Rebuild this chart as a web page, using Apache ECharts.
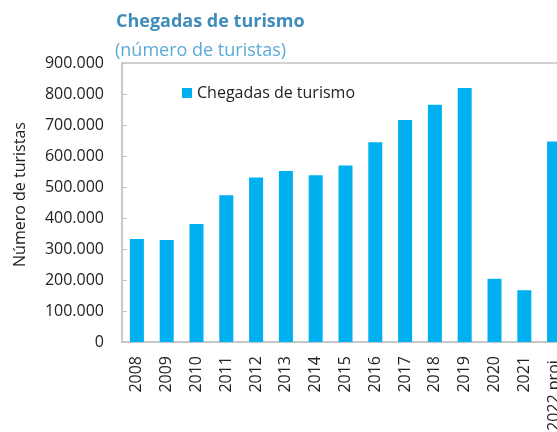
<!DOCTYPE html>
<html>
<head>
<meta charset="utf-8">
<script src="https://cdn.jsdelivr.net/npm/echarts@6/dist/echarts.min.js"></script>
<style>
  html, body { margin: 0; padding: 0; background: #fff; }
  #main { width: 557px; height: 432px; }
</style>
</head>
<body>
<div id="main"></div>
<script>
var years = ['2008', '2009', '2010', '2011', '2012', '2013', '2014', '2015',
             '2016', '2017', '2018', '2019', '2020', '2021', '2022 proj.'];
var arrivals = [332000, 329000, 381000, 473000, 531000, 552000, 538000, 569000,
                644000, 716000, 765000, 819000, 204000, 167000, 647000];
var seriesName = 'Chegadas de turismo';

var fontFamily = '"Open Sans", "Noto Sans", sans-serif';

function fmtThousands(v) {
    return String(v).replace(/\B(?=(\d{3})+(?!\d))/g, '.');
}

var myChart = echarts.init(document.getElementById('main'));
var option = {
    backgroundColor: '#fff',
    textStyle: { fontFamily: fontFamily },
    title: [
        {
            text: 'Chegadas de turismo',
            left: 111,
            top: 8,
            textStyle: { fontFamily: fontFamily, fontSize: 18, fontWeight: 'bold', color: '#3f8cba' }
        },
        {
            text: '(número de turistas)',
            left: 110,
            top: 37,
            textStyle: { fontFamily: fontFamily, fontSize: 18, fontWeight: 'normal', color: '#5aabd8' }
        }
    ],
    legend: {
        data: [seriesName],
        left: 177,
        top: 80,
        itemWidth: 10,
        itemHeight: 10,
        itemGap: 6,
        icon: 'rect',
        textStyle: { fontFamily: fontFamily, fontSize: 16, color: '#222' }
    },
    color: ['#00b0f0'],
    grid: {
        left: 122,
        top: 63,
        width: 447,
        bottom: 90,
        show: true,
        borderColor: '#c4c4c4',
        borderWidth: 1.5,
        containLabel: false,
        outerBoundsMode: 'none'
    },
    xAxis: {
        type: 'category',
        data: years,
        axisLine: { lineStyle: { color: '#c4c4c4', width: 1.5 } },
        axisTick: { show: false },
        axisLabel: {
            rotate: 90,
            margin: 14,
            interval: 0,
            fontFamily: fontFamily,
            fontSize: 16,
            color: '#222'
        }
    },
    yAxis: {
        type: 'value',
        min: 0,
        max: 900000,
        interval: 100000,
        name: 'Número de turistas',
        nameLocation: 'middle',
        nameRotate: 90,
        nameGap: 94,
        nameTextStyle: { fontFamily: fontFamily, fontSize: 16, color: '#222', padding: [0, 0, 0, 16] },
        axisLine: { show: true, lineStyle: { color: '#c4c4c4', width: 1.5 } },
        axisTick: { show: true, inside: true, length: 5, lineStyle: { color: '#c4c4c4' } },
        splitLine: { show: false },
        axisLabel: {
            margin: 18,
            fontFamily: fontFamily,
            fontSize: 16,
            color: '#222',
            formatter: fmtThousands
        }
    },
    series: [
        {
            name: seriesName,
            type: 'bar',
            barWidth: 14,
            data: arrivals,
            itemStyle: { color: '#00b0f0' }
        }
    ]
};
myChart.setOption(option);
</script>
</body>
</html>
